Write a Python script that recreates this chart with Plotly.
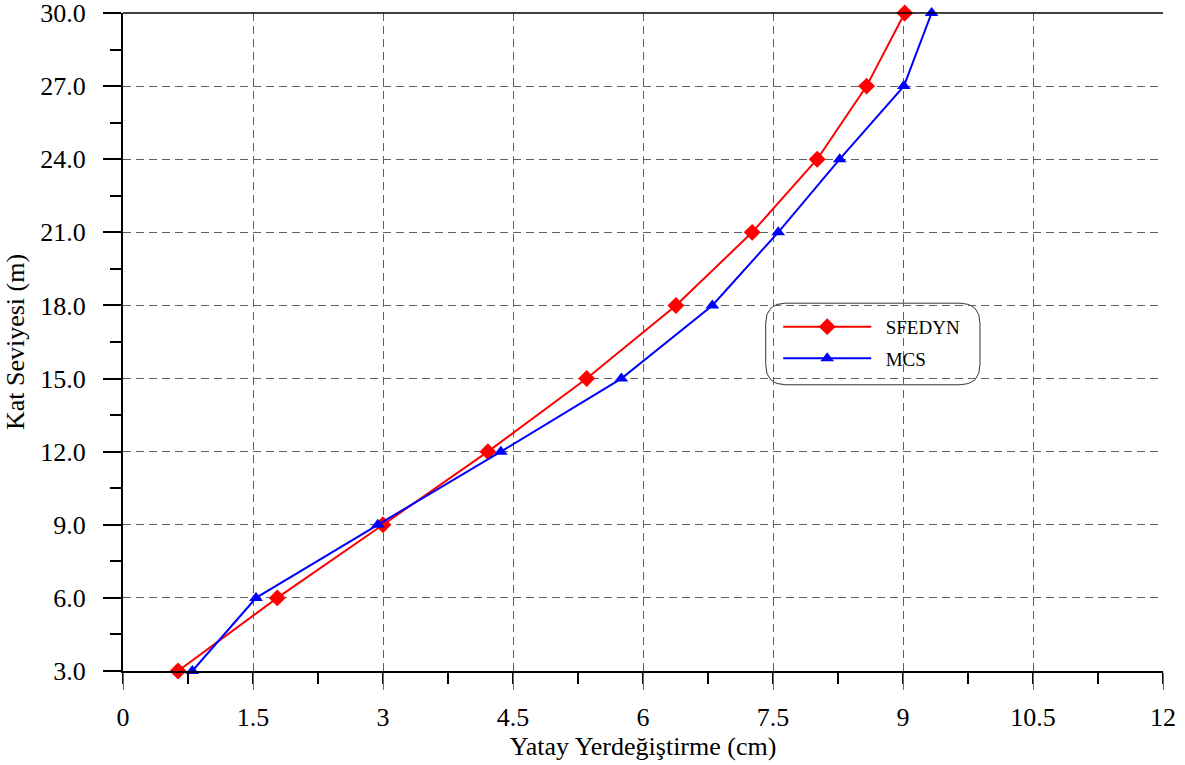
import plotly.graph_objects as go

floors = [3, 6, 9, 12, 15, 18, 21, 24, 27, 30]
sfedyn = [0.635, 1.78, 3.0, 4.21, 5.35, 6.38, 7.26, 8.01, 8.58, 9.02]
mcs = [0.80, 1.535, 2.94, 4.36, 5.75, 6.80, 7.56, 8.27, 9.01, 9.33]

x_ticks = [0, 1.5, 3, 4.5, 6, 7.5, 9, 10.5, 12]
x_tick_labels = ["0", "1.5", "3", "4.5", "6", "7.5", "9", "10.5", "12"]
y_ticks = [3, 6, 9, 12, 15, 18, 21, 24, 27, 30]
y_tick_labels = ["3.0", "6.0", "9.0", "12.0", "15.0", "18.0", "21.0", "24.0", "27.0", "30.0"]

FONT = "Liberation Serif"
PAD = "\u00a0\u00a0"

fig = go.Figure()
fig.add_trace(go.Scatter(
    x=sfedyn, y=floors, name=PAD + "SFEDYN", mode="lines+markers",
    legendgroup="a",
    line=dict(color="#ff0000", width=2),
    marker=dict(symbol="diamond", size=13, color="#ff0000"),
    cliponaxis=False))
fig.add_trace(go.Scatter(
    x=mcs, y=floors, name=PAD + "MCS", mode="lines+markers",
    legendgroup="b",
    line=dict(color="#0000ff", width=2),
    marker=dict(symbol="triangle-up", size=12, color="#0000ff"),
    cliponaxis=False))

# rounded legend box (paper coords)
x0, x1, y0, y1 = 0.618, 0.824, 0.435, 0.559
rx, ry = 20 / 1040, 20 / 658
path = (f"M{x0+rx},{y0} L{x1-rx},{y0} Q{x1},{y0} {x1},{y0+ry} "
        f"L{x1},{y1-ry} Q{x1},{y1} {x1-rx},{y1} L{x0+rx},{y1} "
        f"Q{x0},{y1} {x0},{y1-ry} L{x0},{y0+ry} Q{x0},{y0} {x0+rx},{y0} Z")

fig.update_layout(
    width=1185, height=765,
    margin=dict(l=123, r=22, t=13, b=94, autoexpand=False),
    paper_bgcolor="white", plot_bgcolor="white",
    font=dict(family=FONT, size=26, color="black"),
    showlegend=True,
    legend=dict(x=0.63, y=0.552, xanchor="left", yanchor="top",
                bgcolor="rgba(0,0,0,0)", borderwidth=0, tracegroupgap=4,
                font=dict(family=FONT, size=19), itemwidth=88),
    shapes=[
        dict(type="path", xref="paper", yref="paper", path=path,
             line=dict(color="#333333", width=1), fillcolor="white", layer="below"),
        dict(type="line", xref="paper", yref="paper", x0=0, x1=1, y0=1, y1=1,
             line=dict(color="black", width=1.5), layer="above"),
    ],
    xaxis=dict(
        range=[0, 12], tickvals=x_ticks, ticktext=x_tick_labels,
        showgrid=True, gridcolor="#606060", griddash="8px,5px", gridwidth=1,
        ticks="outside", ticklen=17, tickwidth=1, tickcolor="#707070",
        ticklabelstandoff=5, automargin=False, ticklabeloverflow="allow",
        tickfont=dict(family=FONT, size=26),
        minor=dict(dtick=0.75, tick0=0, ticks="outside", ticklen=11,
                   tickwidth=2, tickcolor="black", showgrid=False),
        showline=True, linecolor="black", linewidth=2, zeroline=False,
        title=dict(text="Yatay Yerdeğiştirme (cm)", standoff=0,
                   font=dict(family=FONT, size=26)),
    ),
    yaxis=dict(
        range=[3, 30], tickvals=y_ticks, ticktext=y_tick_labels,
        showgrid=True, gridcolor="#606060", griddash="8px,5px", gridwidth=1,
        ticks="outside", ticklen=18, tickwidth=2, tickcolor="black",
        ticklabelstandoff=12, automargin=False, ticklabeloverflow="allow",
        tickfont=dict(family=FONT, size=26),
        minor=dict(dtick=1.5, tick0=3, ticks="outside", ticklen=11,
                   tickwidth=2, tickcolor="black", showgrid=False),
        showline=True, linecolor="black", linewidth=2, zeroline=False,
        title=dict(text="Kat Seviyesi (m)", standoff=8,
                   font=dict(family=FONT, size=26)),
    ),
)

fig.write_html("out.html")
